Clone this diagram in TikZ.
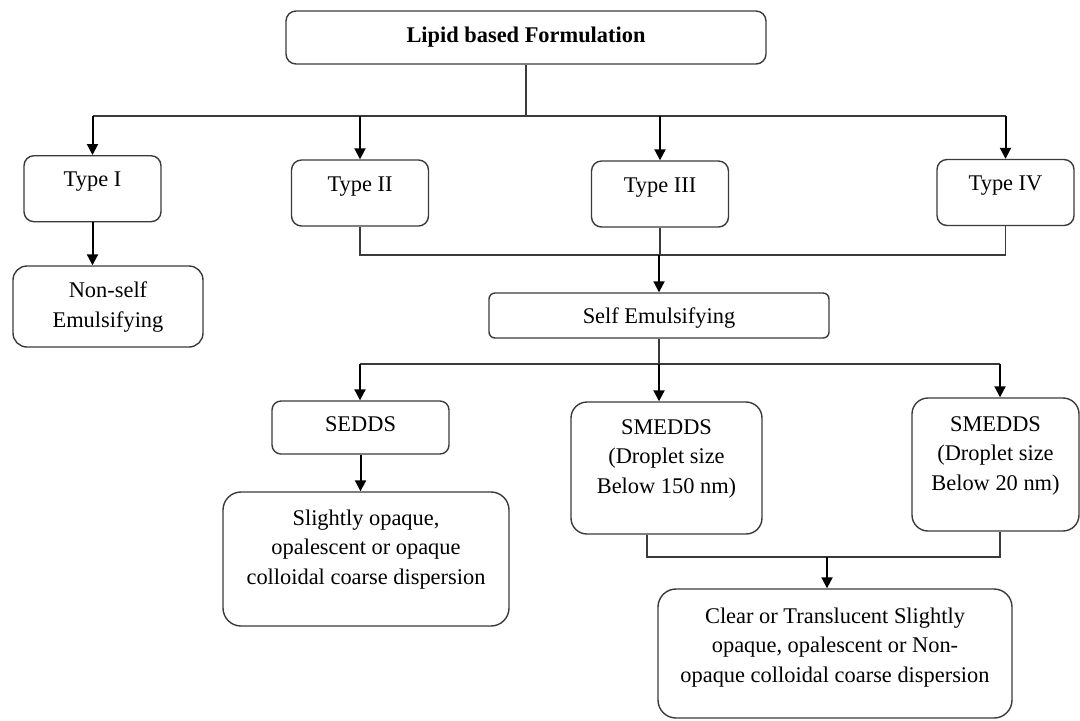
\documentclass[tikz,border=0pt]{standalone}
\usepackage{fontspec}
\setmainfont{Liberation Serif}
\usetikzlibrary{arrows.meta}
\definecolor{boxline}{HTML}{3A3A3A}
\tikzset{
  node_box/.style={draw=boxline,line width=0.7pt,rounded corners=5pt,align=center,
    inner sep=0pt,font=\fontsize{11.2}{14.75}\selectfont},
  type_box/.style={node_box,minimum width=68.5pt,text height=15.5pt,text depth=17.5pt},
  link/.style={draw=boxline,line width=0.7pt},
  arr/.style={-{Triangle[length=5.5pt,width=5.5pt]},draw=black,line width=1pt},
}

\begin{document}
\begin{tikzpicture}[x=0.5pt,y=-0.5pt]
  \useasboundingbox (0,0) rectangle (1080,720);
  \node[node_box,minimum width=240pt,text height=15.5pt,text depth=11pt,
    font=\fontsize{11.2}{14.75}\selectfont\bfseries] (lbf) at (526,37.5) {Lipid based Formulation};

  \node[type_box] (t1) at (92.5,188.7) {Type I};
  \node[type_box] (t2) at (360,193) {Type II};
  \node[type_box] (t3) at (660,194) {Type III};
  \node[type_box] (t4) at (1005.5,192.5) {Type IV};

  \node[node_box,rounded corners=7pt,minimum width=95pt,text height=30.5pt,text depth=10pt] (nse) at (108,306.5) {Non-self\\Emulsifying};
  \node[node_box,rounded corners=3pt,minimum width=170pt,text height=15pt,text depth=7.5pt] (se) at (659,315.5) {Self Emulsifying};

  \node[node_box,rounded corners=4.5pt,minimum width=88.5pt,text height=15pt,text depth=11.5pt] (sedds) at (360.5,427.5) {SEDDS};
  \node[node_box,rounded corners=8pt,minimum width=95.5pt,text height=45.5pt,text depth=20.5pt] (smedds1) at (666.5,468) {SMEDDS\\(Droplet size\\Below 150 nm)};
  \node[node_box,rounded corners=8pt,minimum width=83.5pt,text height=46pt,text depth=20.5pt] (smedds2) at (995.5,464.5) {SMEDDS\\(Droplet size\\Below 20 nm)};

  \node[node_box,rounded corners=9pt,minimum width=143pt,text height=46pt,text depth=21pt] (disp1) at (366,559) {Slightly opaque,\\opalescent or opaque\\colloidal coarse dispersion};
  \node[node_box,rounded corners=9pt,minimum width=177pt,text height=46.5pt,text depth=18pt] (disp2) at (835,653.5) {Clear or Translucent Slightly\\opaque, opalescent or Non-\\opaque colloidal coarse dispersion};

  % top split
  \coordinate (hub) at (526,116);
  \draw[link] (lbf.south) -- (hub);
  \draw[link] (t1.north |- hub) -- (t4.north |- hub);
  \foreach \t in {t1,t2,t3,t4}
    \draw[arr] (\t.north |- hub) -- (\t.north);
  \draw[arr] (t1.south) -- (t1.south |- nse.north);

  % types II-IV join
  \coordinate (join1) at (659,255);
  \draw[link] (t2.south) |- (join1) -| (t4.south);
  \draw[link] (t3.south) -- (t3.south |- join1);
  \draw[arr] (join1) -- (se.north);

  % self emulsifying split
  \coordinate (s1) at (360,364);
  \coordinate (s2) at (659,364);
  \coordinate (s3) at (1000,364);
  \draw[link] (se.south) -- (s2);
  \draw[link] (s1) -- (s3);
  \draw[arr] (s1) -- (s1 |- sedds.north);
  \draw[arr] (s2) -- (s2 |- smedds1.north);
  \draw[arr] (s3) -- (s3 |- smedds2.north);
  \draw[arr] (sedds.south) -- (sedds.south |- disp1.north);

  % smedds join
  \coordinate (m1) at (647,557);
  \coordinate (m2) at (1000,557);
  \coordinate (m0) at (827,557);
  \draw[link] (m1 |- smedds1.south) -- (m1) -- (m2) -- (m2 |- smedds2.south);
  \draw[arr] (m0) -- (m0 |- disp2.north);
\end{tikzpicture}
\end{document}
